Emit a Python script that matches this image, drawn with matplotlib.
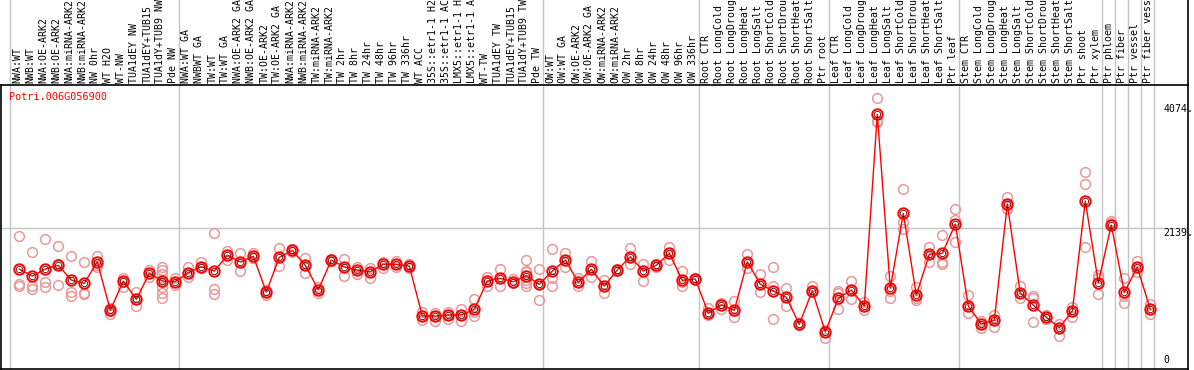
import matplotlib
matplotlib.use("Agg")
import matplotlib.pyplot as plt
import matplotlib.transforms as mtransforms

# sample names (as shown in the header, rotated)
samples = [
    "NWA:WT", "NWB:WT", "NWA:OE-ARK2", "NWB:OE-ARK2", "NWA:miRNA-ARK2",
    "NWB:miRNA-ARK2", "NW 0hr", "WT H2O", "WT-NW", "TUA1dEY NW",
    "TUA1dEY+TUB15", "TUA1dY+TUB9 NW", "Pde NW",
    "NWA:WT GA", "NWBWT GA", "TW:WT", "TW:WT GA", "NWA:OE-ARK2 GA",
    "NWB:OE-ARK2 GA", "TW:OE-ARK2", "TW:OE-ARK2 GA", "NWA:miRNA-ARK2",
    "NWB:miRNA-ARK2", "TW:miRNA-ARK2", "TW:miRNA-ARK2", "TW 2hr", "TW 8hr",
    "TW 24hr", "TW 48hr", "TW 96hr", "TW 336hr", "WT ACC", "35S::etr1-1 H2",
    "35S::etr1-1 AC", "LMX5::etr1-1 H", "LMX5::etr1-1 A", "WT-TW",
    "TUA1dEY TW", "TUA1dEY+TUB15", "TUA1dY+TUB9 TW", "Pde TW",
    "OW:WT", "OW:WT GA", "OW:OE-ARK2", "OW:OE-ARK2 GA", "OW:miRNA-ARK2",
    "OW:miRNA-ARK2", "OW 2hr", "OW 8hr", "OW 24hr", "OW 48hr", "OW 96hr",
    "OW 336hr",
    "Root CTR", "Root LongCold", "Root LongDroug", "Root LongHeat",
    "Root LongSalt", "Root ShortCold", "Root ShortDrou", "Root ShortHeat",
    "Root ShortSalt", "Ptr root",
    "Leaf CTR", "Leaf LongCold", "Leaf LongDroug", "Leaf LongHeat",
    "Leaf LongSalt", "Leaf ShortCold", "Leaf ShortDrou", "Leaf ShortHeat",
    "Leaf ShortSalt", "Ptr leaf",
    "Stem CTR", "Stem LongCold", "Stem LongDroug", "Stem LongHeat",
    "Stem LongSalt", "Stem ShortCold", "Stem ShortDrou", "Stem ShortHeat",
    "Stem ShortSalt", "Ptr shoot", "Ptr xylem",
    "Ptr phloem", "Ptr fiber", "Ptr vessel", "Ptr fiber vess",
]

# index of the first sample of each group (a gray line is drawn before it)
group_starts = [0, 13, 41, 53, 63, 73, 84, 85, 86, 87, 88]

# mean expression per sample
means = [
    1504, 1395, 1504, 1562, 1333, 1281, 1618, 860, 1317, 1032, 1437, 1317, 1306,
    1447, 1540, 1473, 1718, 1614, 1703, 1145, 1687, 1796, 1562, 1181, 1645,
    1536, 1484, 1462, 1578, 1578, 1551, 771, 771, 787, 787, 875, 1317, 1359,
    1306, 1400, 1266,
    1473, 1645, 1297, 1500, 1239, 1489, 1696, 1473, 1562, 1749, 1328, 1348,
    818, 943, 860, 1618, 1266, 1161, 1063, 641, 1166, 521,
    1047, 1177, 927, 3919, 1203, 2374, 1099, 1734, 1749, 2207,
    927, 646, 704, 2519, 1125, 943, 751, 588, 849, 2566, 1291,
    2191, 1141, 1531, 875,
]

# individual replicates per sample
reps = [
    [2015, 1270, 1234], [1765, 1234, 1192], [1968, 1306, 1219],
    [1859, 1578, 1250], [1703, 1150, 1088], [1614, 1125, 1110],
    [1707, 1567, 1540], [900, 849, 797], [1359, 1306, 1228],
    [1145, 1032, 922], [1489, 1437, 1384],
    [1540, 1484, 1431, 1306, 1224, 1125, 1052], [1369, 1306, 1255],
    [1531, 1447, 1375], [1609, 1540, 1515], [2062, 1192, 1119],
    [1790, 1718, 1645], [1754, 1614, 1473], [1749, 1703, 1671],
    [1177, 1145, 1099], [1832, 1687, 1556], [1817, 1796, 1774],
    [1676, 1562, 1437], [1228, 1181, 1125], [1660, 1645, 1629],
    [1660, 1536, 1400], [1540, 1484, 1431], [1525, 1462, 1359],
    [1618, 1578, 1525], [1629, 1578, 1540], [1582, 1551, 1525],
    [838, 771, 709], [813, 771, 693], [838, 787, 719], [880, 787, 693],
    [1032, 838, 776], [1384, 1317, 1239], [1500, 1359, 1239],
    [1348, 1306, 1281], [1645, 1478, 1453, 1333, 1281, 1239],
    [1500, 1266, 1021],
    [1817, 1369, 1239], [1749, 1645, 1531], [1359, 1297, 1239],
    [1629, 1500, 1384], [1333, 1239, 1135], [1504, 1489, 1473],
    [1827, 1696, 1578], [1578, 1473, 1317], [1578, 1562, 1540],
    [1843, 1749, 1640], [1478, 1306, 1239], [1369, 1348, 1328],
    [900, 818, 787], [978, 943, 875], [1005, 849, 760], [1734, 1609, 1525],
    [1426, 1266, 1141], [1536, 1239, 719], [1203, 1063, 922],
    [657, 641, 626], [1239, 1166, 1150], [552, 521, 432],
    [1166, 1125, 880], [1317, 1177, 1036], [985, 927, 865],
    [4168, 3814, 3794], [1395, 1161, 1047], [2748, 2233, 2129],
    [1228, 1047, 1021], [1843, 1734, 1609], [2035, 1618, 1582],
    [2436, 2269, 1921],
    [1099, 927, 813], [698, 646, 579], [787, 704, 595], [2623, 2503, 2441],
    [1244, 1125, 1057], [1083, 1047, 682], [787, 751, 719],
    [641, 588, 463], [907, 849, 751], [3013, 2826, 1843],
    [1411, 1359, 1110],
    [2253, 2218, 2191], [1359, 1088, 969], [1629, 1531, 1453],
    [954, 875, 797],
]

scale_labels = [4074, 2139, 0]
gene = "Potri.006G056900"

W, H = 1194, 370
fig = plt.figure(figsize=(W / 100, H / 100), dpi=100)
ax = fig.add_axes([1 / W, 1 / H, 1187 / W, 284 / H])

ax.set_xlim(-1.408, 89.9)
ax.set_ylim(-56, 4376)
ax.set_xticks([])
ax.set_yticks([])
for s in ax.spines.values():
    s.set_color("black")
    s.set_linewidth(1.2)

mono = "DejaVu Sans Mono"
rep_col = "#e8999b"

# group separators, running up through the header
for k in group_starts:
    ax.axvline(k - 0.69, ymax=1.31, color="#c4c4c4", lw=1, clip_on=False, zorder=0)
ax.axhline(scale_labels[1], color="#c4c4c4", lw=1, zorder=0)

# right border through the header, and header rule
ax.plot([1, 1], [1, 1.31], transform=ax.transAxes, color="black", lw=1.2, clip_on=False)

xs = list(range(len(samples)))
for i, r in enumerate(reps):
    ax.plot([i] * len(r), r, linestyle="none", marker="o", ms=7, mfc="none",
            mec=rep_col, mew=1.1, zorder=2)

ax.plot(xs, means, color="red", lw=1, zorder=3)
ax.plot(xs, means, linestyle="none", marker="o", ms=7.5, mfc="none",
        mec="red", mew=1.4, zorder=4)
ax.plot(xs, means, linestyle="none", marker="o", ms=4.6, mfc="none",
        mec="#500000", mew=0.6, zorder=5)

# header labels
trans = mtransforms.blended_transform_factory(ax.transData, fig.transFigure)
for i, name in enumerate(samples):
    ax.text(i - 0.14, 1 - 83 / H, name, transform=trans, rotation=90,
            ha="center", va="bottom", family=mono, fontsize=7.1, clip_on=False)

# value scale on the right
ax.text(88.0, scale_labels[0], f"{scale_labels[0]}.", ha="left", va="top",
        family=mono, fontsize=7.1)
ax.text(88.0, scale_labels[1], f"{scale_labels[1]}.", ha="left", va="top",
        family=mono, fontsize=7.1)
ax.text(88.0, scale_labels[2], f"{scale_labels[2]}", ha="left", va="bottom",
        family=mono, fontsize=7.1)

fig.text(9.5 / W, 1 - 92 / H, gene, color="red", ha="left", va="top",
         family=mono, fontsize=7.3)

fig.savefig("out.png", dpi=100)
